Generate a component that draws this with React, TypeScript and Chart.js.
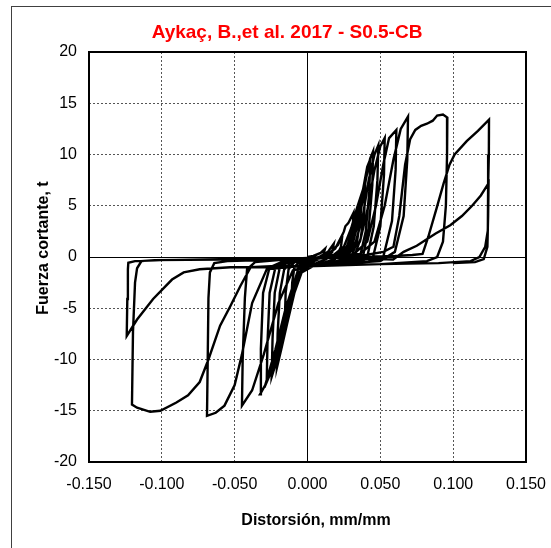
import React, { useEffect, useRef } from 'react';
import { Chart, registerables } from 'chart.js';

Chart.register(...registerables);

// Early small cycles
const smallDistortion = [
  0, 0.004, 0.009, 0.012, 0.011, 0.008, 0.003, -0.001, -0.002, -0.0015, 0.001,
  0.008, 0.014, 0.018, 0.017, 0.013, 0.006, 0.0, -0.003, -0.0025, 0.002,
  0.012, 0.019, 0.024, 0.023, 0.019, 0.010, 0.0, -0.005, -0.0045, -0.002, 0.001,
  0.014, 0.021, 0.025, 0.026, 0.028, 0.0315, 0.031, 0.029, 0.025, 0.015, 0.0, -0.004, -0.0074, -0.0068, -0.005, 0.0,
  0.018, 0.025, 0.030, 0.034, 0.037, 0.0365, 0.034, 0.030, 0.022, 0.005, -0.004, -0.008, -0.011, -0.0105, -0.009, -0.006, 0.002,
  0.020, 0.027, 0.032, 0.036, 0.0395, 0.039, 0.0365, 0.032, 0.024, 0.005, -0.005, -0.010, -0.0155, -0.015, -0.013, -0.009, 0.0,
];
const smallForce = [
  0, 0.1, 0.4, 0.8, 0.3, -0.2, -0.5, -0.6, -0.8, -0.5, -0.3,
  0.0, 0.5, 1.3, 0.5, -0.2, -0.6, -0.8, -1.1, -0.6, -0.3,
  0.1, 0.8, 2.2, 1.0, -0.2, -0.6, -0.9, -1.5, -0.9, -0.5, -0.4,
  0.2, 1.2, 2.5, 3.0, 3.3, 4.3, 2.5, 0.8, -0.2, -0.6, -0.9, -1.4, -2.5, -1.3, -0.6, -0.4,
  0.2, 1.0, 2.8, 4.8, 6.1, 4.0, 1.5, 0.0, -0.5, -0.8, -1.5, -3.0, -4.1, -2.5, -1.0, -0.5, -0.3,
  0.2, 1.0, 3.0, 5.3, 6.8, 4.5, 1.8, 0.0, -0.5, -0.8, -1.5, -3.5, -5.8, -3.5, -1.2, -0.5, -0.3,
];

// Intermediate cycles
const midDistortion = [
  0.022, 0.029, 0.034, 0.038, 0.041, 0.043, 0.0425, 0.040, 0.036, 0.027, 0.005, -0.004, -0.009, -0.014, -0.018, -0.021, -0.0205, -0.019, -0.016, -0.011, 0.0,
  0.024, 0.031, 0.036, 0.040, 0.043, 0.045, 0.0445, 0.042, 0.038, 0.029, 0.005, -0.005, -0.011, -0.017, -0.022, -0.0246, -0.024, -0.0225, -0.019, -0.013, 0.0,
  0.026, 0.033, 0.038, 0.042, 0.046, 0.0486, 0.048, 0.0455, 0.041, 0.031, 0.005, -0.006, -0.013, -0.019, -0.025, -0.028, -0.0275, -0.026, -0.022, -0.015, 0.0,
  0.028, 0.036, 0.041, 0.046, 0.050, 0.053, 0.0525, 0.050, 0.045, 0.034, 0.005, -0.007, -0.015, -0.022, -0.029, -0.0326, -0.032, -0.0305, -0.026, -0.018, 0.0,
  0.032, 0.041, 0.047, 0.052, 0.056, 0.061, 0.0605, 0.058, 0.052, 0.040, 0.005, -0.010, -0.020, -0.030, -0.038, -0.045, -0.0445, -0.043, -0.0415, -0.036, -0.020, 0.0,
];
const midForce = [
  0.3, 1.2, 3.5, 6.5, 8.8, 9.5, 6.5, 2.5, 0.0, -0.5, -0.8, -1.5, -3.5, -6.5, -9.0, -10.8, -7.5, -3.5, -1.2, -0.5, -0.3,
  0.3, 1.3, 4.0, 7.5, 9.6, 10.3, 7.0, 2.8, 0.0, -0.5, -0.8, -1.5, -4.0, -7.5, -10.5, -11.7, -8.0, -3.5, -1.0, -0.5, -0.3,
  0.3, 1.4, 4.0, 7.5, 10.0, 10.9, 7.5, 3.0, 0.0, -0.5, -0.8, -1.5, -4.5, -8.0, -11.2, -12.2, -8.5, -3.5, -1.0, -0.5, -0.3,
  0.3, 1.5, 4.5, 8.5, 10.8, 11.6, 8.0, 3.0, 0.0, -0.5, -0.8, -1.5, -5.0, -9.0, -12.5, -13.4, -9.0, -3.5, -1.0, -0.5, -0.3,
  0.3, 1.5, 5.0, 9.0, 11.6, 12.4, 8.5, 3.5, 0.0, -0.5, -0.8, -1.3, -4.5, -9.5, -13.0, -14.5, -10.0, -4.0, -1.2, -0.5, -0.3, -0.2,
];

// Large cycles
const largeDistortion = [
  0.036, 0.046, 0.053, 0.059, 0.064, 0.069, 0.0685, 0.066, 0.060, 0.050, 0.005, -0.015, -0.028, -0.038, -0.045, -0.050, -0.057, -0.063, -0.069, -0.0685, -0.068, -0.067, -0.064, -0.055, -0.030, 0.0,
  0.040, 0.052, 0.059, 0.063, 0.067, 0.0705, 0.074, 0.078, 0.082, 0.086, 0.089, 0.093, 0.096, 0.0958, 0.095, 0.093, 0.089, 0.082, 0.050, 0.0,
  -0.025, -0.039, -0.046, -0.053, -0.060, -0.068, -0.074, -0.082, -0.090, -0.101, -0.108, -0.117, -0.1205, -0.1198, -0.1184, -0.117, -0.114, -0.105, -0.060, 0.0,
  0.030, 0.060, 0.072, 0.079, 0.083, 0.0887, 0.0935, 0.0975, 0.101, 0.1093, 0.117, 0.1246, 0.1245, 0.124, 0.1238, 0.122, 0.118, 0.112, 0.090, 0.050, 0.0,
  -0.030, -0.053, -0.074, -0.085, -0.093, -0.106, -0.117, -0.1241, -0.1237, -0.1233, -0.123, -0.1184, -0.100, -0.050, 0.0,
  0.030, 0.0588, 0.066, 0.075, 0.088, 0.098, 0.106, 0.113, 0.119, 0.1243, 0.124, 0.1235, 0.121, 0.115, 0.100,
];
const largeForce = [
  0.3, 1.5, 5.0, 9.5, 12.5, 13.7, 9.5, 4.0, 0.5, -0.4, -0.8, -1.0, -1.2, -4.5, -9.5, -12.5, -14.5, -15.2, -15.5, -10.0, -4.0, -1.5, -0.6, -0.4, -0.3, -0.1,
  0.2, 0.5, 1.0, 4.0, 9.0, 11.5, 12.4, 12.8, 13.0, 13.3, 13.8, 13.9, 13.6, 10.0, 5.0, 1.5, 0.0, -0.4, -0.7, -0.9,
  -0.9, -1.0, -2.8, -4.8, -6.7, -10.0, -12.2, -13.5, -14.2, -15.0, -15.1, -14.7, -14.4, -7.3, -2.5, -1.1, -0.4, -0.3, -0.25, -0.1,
  0.0, 0.1, 0.2, 0.3, 2.0, 4.8, 7.2, 9.0, 10.0, 11.3, 12.3, 13.4, 10.0, 7.0, 2.6, 1.0, 0.0, -0.4, -0.6, -0.7, -0.9,
  -1.0, -1.0, -1.2, -1.5, -2.2, -4.1, -6.1, -7.7, -4.1, -1.2, -0.56, -0.4, -0.3, -0.2, -0.1,
  -0.1, -0.25, 0.5, 1.1, 2.3, 3.1, 4.0, 5.0, 6.0, 7.2, 4.0, 1.0, -0.2, -0.5, -0.6,
];

const xTickValues = [-0.15, -0.1, -0.05, 0, 0.05, 0.1, 0.15];
const yTickValues = [-20, -15, -10, -5, 0, 5, 10, 15, 20];

const chartTitle = 'Aykaç, B.,et al. 2017 - S0.5-CB';
const xTitle = 'Distorsión, mm/mm';
const yTitle = 'Fuerza cortante, t';

const FONT = "'Liberation Sans', Arial, sans-serif";

// canvas sits at page (12, 7)
const CANVAS_X = 12;
const CANVAS_Y = 7;

export default function App() {
  const ref = useRef<HTMLCanvasElement>(null);

  useEffect(() => {
    const xs = [...smallDistortion, ...midDistortion, ...largeDistortion];
    const ys = [...smallForce, ...midForce, ...largeForce];
    const points = xs.map((x, i) => ({ x, y: ys[i] }));

    const decorPlugin = {
      id: 'decor',
      afterDraw(chart: any) {
        const { ctx, chartArea } = chart;
        const { left, right, top, bottom } = chartArea;
        ctx.save();
        ctx.strokeStyle = '#000';
        ctx.lineWidth = 2;
        ctx.strokeRect(Math.round(left), Math.round(top), Math.round(right - left), Math.round(bottom - top));

        // chart title
        ctx.fillStyle = '#FF0000';
        ctx.font = `bold 19px ${FONT}`;
        ctx.textAlign = 'center';
        ctx.textBaseline = 'alphabetic';
        ctx.fillText(chartTitle, 287 - CANVAS_X, 38 - CANVAS_Y);

        // x axis title
        ctx.fillStyle = '#000';
        ctx.font = `bold 16px ${FONT}`;
        ctx.fillText(xTitle, 316 - CANVAS_X, 525 - CANVAS_Y);

        // y axis title
        ctx.translate(48 - CANVAS_X, 248 - CANVAS_Y);
        ctx.rotate(-Math.PI / 2);
        ctx.fillText(yTitle, 0, 0);
        ctx.restore();
      },
    };

    const isZero = (c: any) => c && c.tick && c.tick.value === 0;

    const chart = new Chart(ref.current as HTMLCanvasElement, {
      type: 'scatter',
      data: {
        datasets: [
          {
            data: points,
            showLine: true,
            borderColor: '#000',
            borderWidth: 2.4,
            pointRadius: 0,
            tension: 0,
            fill: false,
          },
        ],
      },
      options: {
        responsive: false,
        animation: false,
        devicePixelRatio: 1,
        layout: { padding: { left: 0, right: 38, top: 45, bottom: 14 } },
        plugins: {
          legend: { display: false },
          tooltip: { enabled: false },
          title: { display: false },
        },
        scales: {
          x: {
            type: 'linear',
            position: 'bottom',
            min: -0.15,
            max: 0.15,
            afterBuildTicks: (s: any) => {
              s.ticks = xTickValues.map((v) => ({ value: v }));
            },
            afterFit: (s: any) => {
              s.height = 86;
              s.paddingLeft = 0;
              s.paddingRight = 0;
            },
            ticks: {
              callback: (v: any) => Number(v).toFixed(3),
              color: '#000',
              font: { family: FONT, size: 16 },
              padding: 13,
              maxRotation: 0,
              autoSkip: false,
            },
            grid: {
              color: (c: any) => (isZero(c) ? '#000' : '#555'),
              lineWidth: 1,
              drawTicks: false,
            },
            border: {
              display: false,
              dash: (c: any) => (isZero(c) ? [] : [2, 2]),
            },
            title: { display: false },
          },
          y: {
            type: 'linear',
            position: 'left',
            min: -20,
            max: 20,
            afterBuildTicks: (s: any) => {
              s.ticks = yTickValues.map((v) => ({ value: v }));
            },
            afterFit: (s: any) => {
              s.width = 77;
              s.paddingTop = 0;
              s.paddingBottom = 0;
            },
            ticks: {
              color: '#000',
              font: { family: FONT, size: 16 },
              padding: 12,
              autoSkip: false,
            },
            grid: {
              color: (c: any) => (isZero(c) ? '#000' : '#555'),
              lineWidth: 1,
              drawTicks: false,
            },
            border: {
              display: false,
              dash: (c: any) => (isZero(c) ? [] : [2, 2]),
            },
            title: { display: false },
          },
        },
      },
      plugins: [decorPlugin],
    } as any);

    return () => chart.destroy();
  }, []);

  return (
    <div
      style={{
        position: 'fixed',
        left: 0,
        top: 0,
        width: 551,
        height: 548,
        overflow: 'hidden',
        background: '#fff',
      }}
    >
      <div
        style={{
          position: 'absolute',
          left: 11,
          top: 6,
          width: 552,
          height: 560,
          borderLeft: '1px solid #404040',
          borderTop: '1px solid #404040',
        }}
      >
        <canvas ref={ref} width={552} height={555} style={{ display: 'block', width: 552, height: 555 }} />
      </div>
    </div>
  );
}
